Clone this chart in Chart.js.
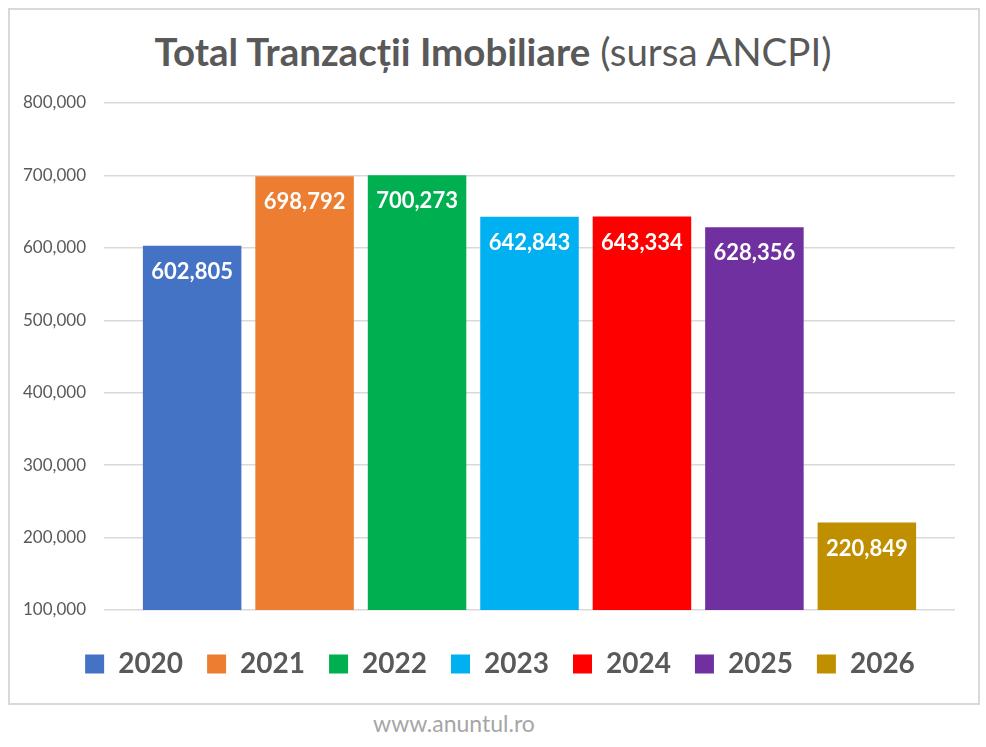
<!DOCTYPE html>
<html>
<head>
<meta charset="utf-8">
<script src="https://cdn.jsdelivr.net/npm/chart.js@4.4.1/dist/chart.umd.min.js"></script>
<style>
  html, body { margin: 0; padding: 0; background: #ffffff; }
  body { width: 986px; height: 747px; position: relative; overflow: hidden; font-family: Lato, "Open Sans", sans-serif; }
  #box { position: absolute; left: 8px; top: 8px; width: 968px; height: 693px; border: 2px solid #d9d9d9; box-sizing: content-box; }
  #title { position: absolute; left: 0; top: 28px; width: 986px; text-align: center; color: #595959; font-size: 38.5px; line-height: 46px; white-space: nowrap; }
  #title b { font-weight: 700; }
  #title span { font-weight: 400; }
  #wrap { position: absolute; left: 10px; top: 90px; width: 980px; height: 610px; }
  #footer { position: absolute; left: 0; top: 709px; width: 908px; text-align: center; color: #a6a6a6; font-size: 23px; line-height: 28px; }
</style>
</head>
<body>
<div id="box"></div>
<div id="title"><b>Total Tranzacții Imobiliare</b> <span>(sursa ANCPI)</span></div>
<div id="wrap"><canvas id="c"></canvas></div>
<div id="footer">www.anuntul.ro</div>
<script>
const years = ["2020", "2021", "2022", "2023", "2024", "2025", "2026"];
const values = [602805, 698792, 700273, 642843, 643334, 628356, 220849];
const colors = ["#4472C4", "#ED7D31", "#00B050", "#00B0F0", "#FF0000", "#7030A0", "#BF8F00"];
const category = ["Total"];
const yMin = 100000, yMax = 800000, yStep = 100000;

const fmt = v => Number(v).toLocaleString("en-US");

const labelPlugin = {
  id: "barLabels",
  afterDatasetsDraw(chart) {
    const ctx = chart.ctx;
    ctx.save();
    ctx.fillStyle = "#ffffff";
    ctx.font = "bold 22px Lato";
    ctx.textAlign = "center";
    ctx.textBaseline = "middle";
    chart.data.datasets.forEach((ds, i) => {
      const meta = chart.getDatasetMeta(i);
      meta.data.forEach((bar, j) => {
        ctx.fillText(fmt(ds.data[j]), bar.x, bar.y + 26);
      });
    });
    ctx.restore();
  }
};

const datasets = years.map((y, i) => ({
  label: y,
  data: [values[i]],
  backgroundColor: colors[i],
  borderWidth: 0,
  categoryPercentage: 0.925,
  barPercentage: 0.876
}));

new Chart(document.getElementById("c"), {
  type: "bar",
  data: { labels: category, datasets },
  options: {
    responsive: true,
    maintainAspectRatio: false,
    animation: false,
    layout: { padding: { left: 0, right: 0, top: 13, bottom: 12 } },
    plugins: {
      title: { display: false },
      tooltip: { enabled: false },
      legend: {
        display: true,
        position: "bottom",
        labels: {
          boxWidth: 19,
          boxHeight: 19,
          padding: 24,
          color: "#595959",
          font: { family: "Lato", size: 28, weight: "bold" }
        }
      }
    },
    scales: {
      x: {
        display: true,
        afterFit(scale) { scale.height = 16; },
        grid: { display: false },
        border: { display: false },
        ticks: { display: false }
      },
      y: {
        min: yMin,
        max: yMax,
        afterFit(scale) { scale.width = 94; },
        border: { display: false },
        grid: { color: "#d9d9d9", lineWidth: 1.5, drawTicks: true, tickLength: 18, tickColor: "rgba(0,0,0,0)" },
        ticks: {
          stepSize: yStep,
          padding: 0,
          color: "#595959",
          font: { family: "Lato", size: 17 },
          callback: v => fmt(v)
        }
      },
      yRight: {
        type: "linear",
        position: "right",
        display: true,
        min: yMin,
        max: yMax,
        afterFit(scale) { scale.width = 35; },
        border: { display: false },
        grid: { display: false },
        ticks: { display: false }
      }
    }
  },
  plugins: [labelPlugin]
});
</script>
</body>
</html>
